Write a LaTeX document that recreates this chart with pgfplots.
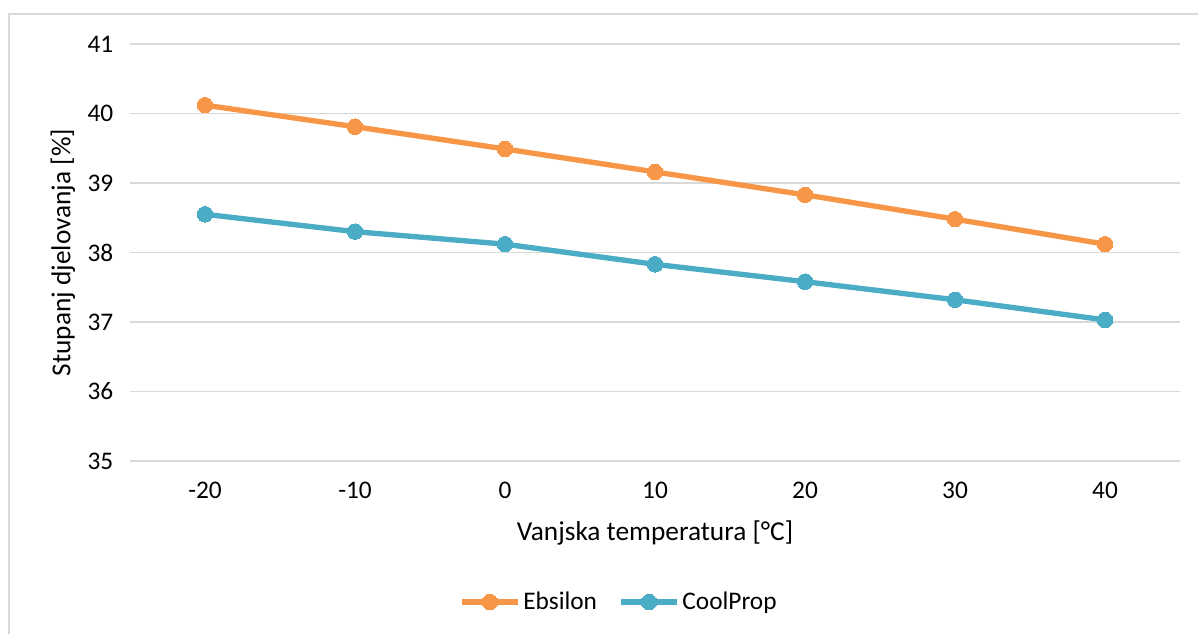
\documentclass[border=0pt]{standalone}
\usepackage{pgfplots}
\pgfplotsset{compat=1.18}
\usepackage{fontspec}
\setmainfont{Carlito}
\definecolor{eorange}{HTML}{F79646}
\definecolor{cblue}{HTML}{4BACC6}
\definecolor{gridgray}{HTML}{D9D9D9}
\begin{document}
\begin{tikzpicture}
\path[use as bounding box] (0pt,0pt) rectangle (898.5pt,474.75pt);
\draw[gridgray,line width=1.5pt] (6.75pt,-5pt) -- (6.75pt,464.25pt) -- (905pt,464.25pt);
\begin{axis}[
  at={(97.5pt,129pt)}, anchor=south west,
  scale only axis, width=787.5pt, height=312.75pt,
  xmin=-25, xmax=45, ymin=35, ymax=41,
  xtick={-20,-10,0,10,20,30,40},
  xticklabels={-20,-10,0,10,20,30,40},
  ytick={35,36,37,38,39,40,41},
  yticklabels={35,36,37,38,39,40,41},
  axis line style={draw=none},
  major tick length=0pt,
  ymajorgrids, grid style={gridgray,line width=1.1pt},
  tick label style={font=\fontsize{19}{22}\selectfont, black},
  xticklabel style={yshift=-12pt},
  yticklabel style={xshift=-9pt},
  xlabel={Vanjska temperatura [°C]},
  ylabel={Stupanj djelovanja [\%]},
  label style={font=\fontsize{20.5}{24}\selectfont},
  xlabel style={yshift=-10pt},
  ylabel style={yshift=2.5pt},
  legend style={at={(0.466,-0.338)}, anchor=center, draw=none, fill=none,
    legend columns=2, font=\fontsize{19}{22}\selectfont,
    inner sep=0pt,
    /tikz/every even column/.append style={column sep=14pt}},
  legend image code/.code={
    \draw[#1, mark=none] (0pt,0pt) -- (42pt,0pt);
    \draw[#1, only marks] plot coordinates {(21pt,0pt)};
  },
]
\addplot[eorange, line width=4pt, mark=*, mark size=5.8pt, mark options={fill=eorange, draw=eorange, line width=0pt}]
coordinates {(-20,40.12) (-10,39.81) (0,39.49) (10,39.16) (20,38.83) (30,38.48) (40,38.12)};
\addlegendentry{Ebsilon}
\addplot[cblue, line width=4pt, mark=*, mark size=5.8pt, mark options={fill=cblue, draw=cblue, line width=0pt}]
coordinates {(-20,38.55) (-10,38.30) (0,38.12) (10,37.83) (20,37.58) (30,37.32) (40,37.03)};
\addlegendentry{CoolProp}
\end{axis}
\end{tikzpicture}
\end{document}
